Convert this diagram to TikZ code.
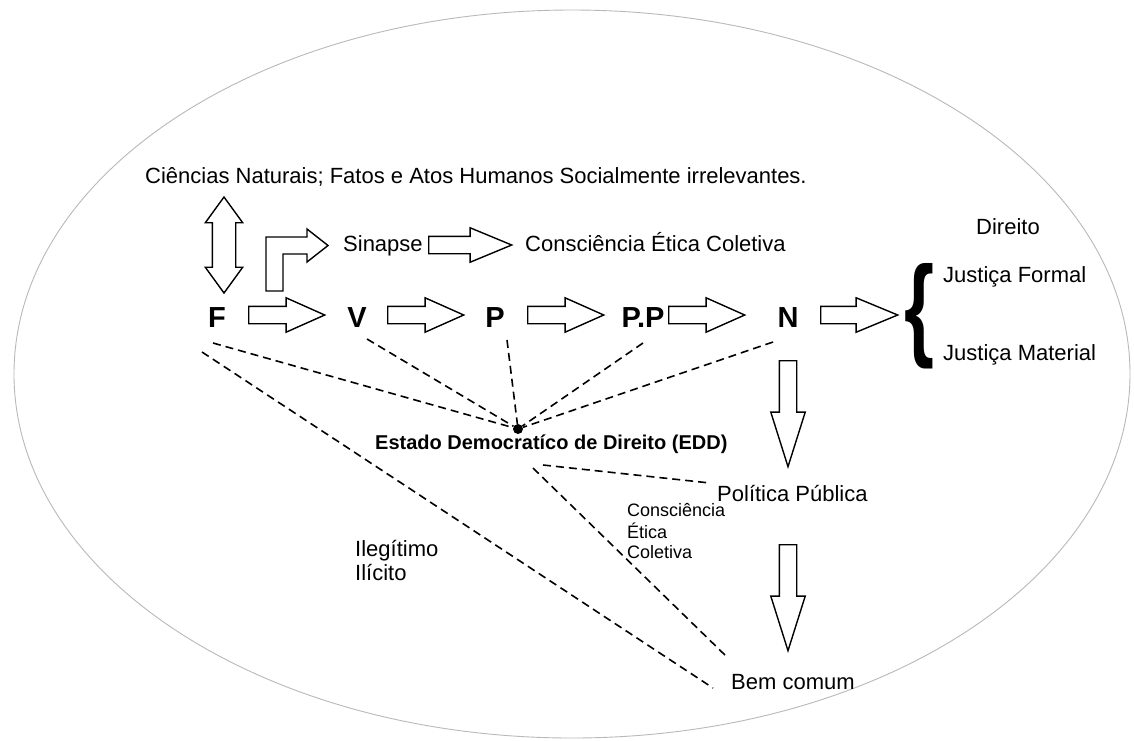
\documentclass[tikz,border=0pt]{standalone}
\usepackage{fontspec}
\setmainfont{Liberation Sans}
\usetikzlibrary{shapes.arrows}
\begin{document}
\begin{tikzpicture}[x=1pt,y=-1pt,
  txt/.style={font=\fontsize{22}{26}\selectfont, inner sep=0pt, anchor=base west},
  smalltxt/.style={font=\fontsize{18}{21}\selectfont, inner sep=0pt, anchor=base west},
  letter/.style={font=\fontsize{29}{34}\selectfont\bfseries, inner sep=0pt, anchor=base},
  blk/.style={shape=single arrow, draw, line width=1.4pt, inner sep=8pt,
    single arrow head extend=8.5pt, single arrow head indent=0pt, anchor=tail},
  harr/.style={blk, minimum height=76pt, single arrow tip angle=48},
  varr/.style={blk, minimum height=106pt, single arrow tip angle=35, shape border rotate=270},
  dline/.style={dash pattern=on 8pt off 5pt, line width=1.6pt},
]
\useasboundingbox (0,0) rectangle (1134,740);
\fill[white] (0,0) rectangle (1134,740);
\draw[gray!55, line width=0.9pt] (572,374) ellipse [x radius=558pt, y radius=364pt];

% texts
\node[txt] (cn) at (145,183) {Ciências Naturais; Fatos e Atos Humanos Socialmente irrelevantes.};
\node[txt] (sin) at (343,251) {Sinapse};
\node[txt] (cec) at (525,251) {Consciência Ética Coletiva};
\node[txt] (dir) at (976,234) {Direito};
\node[txt] (jf) at (943,282) {Justiça Formal};
\node[txt] (jm) at (943,360) {Justiça Material};
\node[font=\fontsize{20}{24}\selectfont\bfseries, inner sep=0pt, anchor=base west] (edd) at (375,449) {Estado Democratíco de Direito (EDD)};
\node[txt] (pol) at (717,501) {Política Pública};
\node[txt] (bem) at (731,689) {Bem comum};
\node[txt] (ileg) at (355,556) {Ilegítimo};
\node[txt] (ilic) at (355,580) {Ilícito};
\node[smalltxt] (c1) at (627,516) {Consciência};
\node[smalltxt] (c2) at (627,538) {Ética};
\node[smalltxt] (c3) at (627,558) {Coletiva};

% row letters
\node[letter] (F) at (217,327) {F};
\node[letter] (V) at (357,327) {V};
\node[letter] (P) at (495,327) {P};
\node[letter] (PP) at (643,327) {P.P};
\node[letter] (N) at (788,327) {N};

% block arrows
\node[harr] (a1) at (248,315) {};
\node[harr] (a2) at (387,315) {};
\node[harr] (a3) at (527,315) {};
\node[harr] (a4) at (668,315) {};
\node[harr, minimum height=77pt, single arrow tip angle=45] (a5) at (820,315) {};
\node[harr, minimum height=83pt, single arrow tip angle=45] (a6) at (428,245) {};
\node[varr] (d1) at (788,360) {};
\node[varr] (d2) at (788,544) {};
\node[shape=double arrow, draw, line width=1.4pt, inner sep=11pt,
  double arrow head extend=7pt, double arrow tip angle=72,
  minimum height=96pt, shape border rotate=90] (da) at (224,245) {};
\draw[line width=1.4pt, line join=miter] (266,291) -- (266,237) -- (307,237) -- (307,229)
  -- (328,245.5) -- (307,262) -- (307,254) -- (283,254) -- (283,291) -- cycle;

% brace
\node[inner sep=0pt] (br) at (919,316) {\resizebox{30pt}{82pt}{\bfseries\{}};

% dot and dashed connectors
\node[circle, fill, inner sep=0pt, minimum size=10pt] (dot) at (518,429) {};
\coordinate (f1) at (213,343);
\coordinate (f2) at (202,352);
\coordinate (v1) at (367,339);
\coordinate (p1) at (507,340);
\coordinate (pp1) at (643,343);
\coordinate (n1) at (773,342);
\coordinate (e1) at (543,465);
\coordinate (e2) at (533,468);
\coordinate (pol1) at (710,483);
\coordinate (bem1) at (727,657);
\coordinate (bem2) at (713,688);
\draw[dline] (f1) -- (dot);
\draw[dline] (v1) -- (dot);
\draw[dline] (p1) -- (dot);
\draw[dline] (pp1) -- (dot);
\draw[dline] (n1) -- (dot);
\draw[dline] (f2) -- (bem2);
\draw[dline] (e1) -- (pol1);
\draw[dline] (e2) -- (bem1);
\end{tikzpicture}
\end{document}
